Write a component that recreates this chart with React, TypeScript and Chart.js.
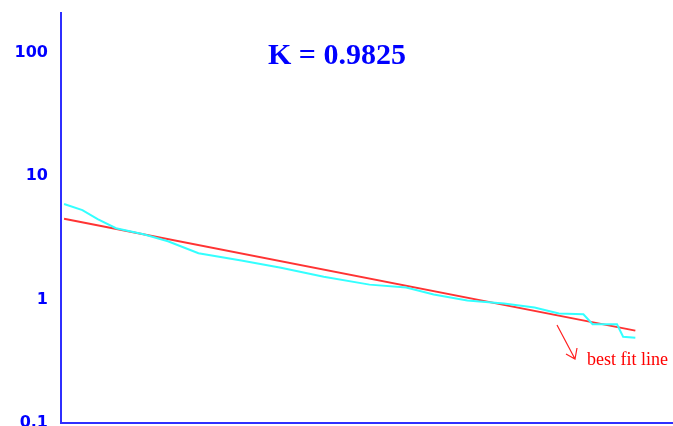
import React, { useEffect, useRef } from "react";
import { Chart, registerables } from "chart.js";

Chart.register(...registerables);

const yTickValues = [0.1, 1, 10, 100];
const yTickLabels = ["0.1", "1", "10", "100"];

const observedX = [1, 7, 12, 18, 27, 35, 45, 59, 72, 86, 101, 113, 122, 133, 145, 155, 163, 171, 174, 182, 184, 188];
const observedY = [5.93, 5.29, 4.47, 3.78, 3.38, 2.96, 2.37, 2.07, 1.81, 1.53, 1.32, 1.25, 1.1, 0.98, 0.93, 0.86, 0.77, 0.76, 0.63, 0.63, 0.5, 0.49];

const fitX = [1, 188];
const fitY = [4.5, 0.56];

const titleText = "K = 0.9825";
const noteText = "best fit line";

const overlay = {
  id: "overlay",
  afterDraw(chart: any) {
    const ctx = chart.ctx;
    ctx.save();
    ctx.fillStyle = "#0000ff";
    ctx.font = "bold 30px 'Liberation Serif'";
    ctx.textAlign = "center";
    ctx.textBaseline = "alphabetic";
    ctx.fillText(titleText, 337, 64);

    ctx.fillStyle = "#ff0000";
    ctx.font = "18px 'Liberation Serif'";
    ctx.textAlign = "left";
    ctx.fillText(noteText, 587, 365);

    ctx.strokeStyle = "#ff2020";
    ctx.lineWidth = 1.2;
    ctx.beginPath();
    ctx.moveTo(557, 325);
    ctx.lineTo(575, 359);
    ctx.moveTo(566, 354);
    ctx.lineTo(575, 359);
    ctx.lineTo(577, 348);
    ctx.stroke();
    ctx.restore();
  },
};

export default function App() {
  const ref = useRef<HTMLCanvasElement>(null);
  useEffect(() => {
    document.body.style.margin = "0";
    const chart = new Chart(ref.current!, {
      type: "line",
      data: {
        datasets: [
          {
            data: observedX.map((x, i) => ({ x, y: observedY[i] })),
            borderColor: "#33ffff",
            borderWidth: 2,
            pointRadius: 0,
            tension: 0,
          },
          {
            data: fitX.map((x, i) => ({ x, y: fitY[i] })),
            borderColor: "#ff3333",
            borderWidth: 2,
            pointRadius: 0,
            tension: 0,
          },
        ],
      },
      options: {
        animation: false,
        responsive: false,
        layout: { padding: { top: 13, right: 1, bottom: 0, left: 0 } },
        plugins: { legend: { display: false }, tooltip: { enabled: false }, title: { display: false } },
        scales: {
          x: {
            type: "linear",
            min: 0,
            max: 200,
            grid: { display: false, drawTicks: false },
            ticks: { display: false },
            border: { color: "#2f2fff", width: 2 },
            afterFit: (s: any) => {
              s.height = 3;
              s.paddingLeft = 0;
              s.paddingRight = 0;
              s.paddingTop = 0;
              s.paddingBottom = 0;
            },
          },
          y: {
            type: "logarithmic",
            min: 0.1,
            max: 209,
            grid: { display: false, drawTicks: false },
            border: { color: "#2f2fff", width: 2 },
            afterBuildTicks: (s: any) => {
              s.ticks = yTickValues.map((v) => ({ value: v }));
            },
            ticks: {
              color: "#0000ff",
              padding: 13,
              font: { family: "'DejaVu Sans'", weight: "bold", size: 16 },
              callback: (v: any) => {
                const i = yTickValues.indexOf(Number(v));
                return i >= 0 ? yTickLabels[i] : "";
              },
            },
            afterFit: (s: any) => {
              s.width = 61;
              s.paddingTop = 0;
              s.paddingBottom = 0;
              s.paddingLeft = 0;
              s.paddingRight = 0;
            },
          },
        },
      },
      plugins: [overlay],
    });
    return () => chart.destroy();
  }, []);
  return <canvas ref={ref} width={673} height={426} style={{ display: "block" }} />;
}
